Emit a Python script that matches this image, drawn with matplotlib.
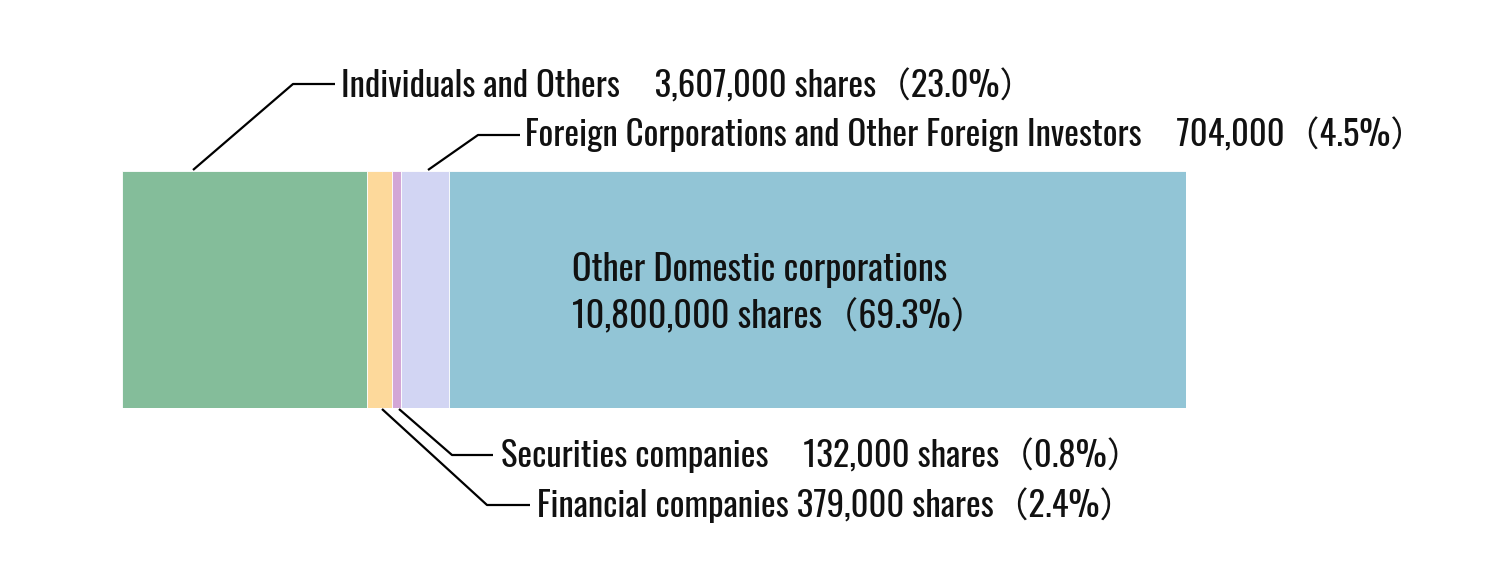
import matplotlib
matplotlib.use("Agg")
import matplotlib.pyplot as plt
import numpy as np

# shareholder composition
categories = [
    "Individuals and Others",
    "Financial companies",
    "Securities companies",
    "Foreign Corporations and Other Foreign Investors",
    "Other Domestic corporations",
]
shares = ["3,607,000", "379,000", "132,000", "704,000", "10,800,000"]
percents = [23.0, 2.4, 0.8, 4.5, 69.3]
colors = ["#84bd9a", "#fdd99b", "#d3a6d6", "#d2d5f3", "#92c5d6"]

plt.rcParams["font.family"] = ["Oswald", "Noto Sans CJK JP", "DejaVu Sans"]

W, H = 1489, 573
fig = plt.figure(figsize=(W / 100, H / 100), dpi=100)

# bar axes: 0..100 % maps to pixel 122..1186, bar from y 171..408
x0, x1, y0, y1 = 122, 1186, 171, 408
ax = fig.add_axes([x0 / W, (H - y1) / H, (x1 - x0) / W, (y1 - y0) / H])
left = np.concatenate([[0], np.cumsum(percents)[:-1]])
ax.barh([0], percents, left=left, height=1.0, color=colors, edgecolor="white", linewidth=0.6)
ax.set_xlim(0, 100)
ax.set_ylim(-0.5, 0.5)
ax.axis("off")

# overlay axes in pixel coordinates for leader lines and text
ov = fig.add_axes([0, 0, 1, 1], zorder=5)
ov.set_xlim(0, W)
ov.set_ylim(H, 0)
ov.axis("off")
ov.patch.set_alpha(0)

fs = 25
# (label text, line points, text position)
labels = [
    ("{}　{} shares（{:.1f}%）".format(categories[0], shares[0], percents[0]),
     [(193, 170), (293, 84), (335, 84)], (341, 86)),
    ("{}　{}（{:.1f}%）".format(categories[3], shares[3], percents[3]),
     [(428, 170), (478, 135), (520, 135)], (525, 134)),
    ("{}　{} shares（{:.1f}%）".format(categories[2], shares[2], percents[2]),
     [(399, 409), (452, 455), (493, 455)], (501, 455)),
    ("{} {} shares（{:.1f}%）".format(categories[1], shares[1], percents[1]),
     [(382, 409), (487, 505), (530, 505)], (537, 505)),
]
for text, pts, (tx, ty) in labels:
    xs, ys = zip(*pts)
    ov.plot(xs, ys, color="black", linewidth=1.6, solid_capstyle="butt")
    ov.text(tx, ty, text, fontsize=fs, ha="left", va="center", color="#111111")

ov.text(572, 270, categories[4], fontsize=fs + 1, ha="left", va="center", color="#111111")
ov.text(572, 317, "{} shares（{:.1f}%）".format(shares[4], percents[4]),
        fontsize=fs + 1, ha="left", va="center", color="#111111")

fig.savefig("out.png", dpi=100)
